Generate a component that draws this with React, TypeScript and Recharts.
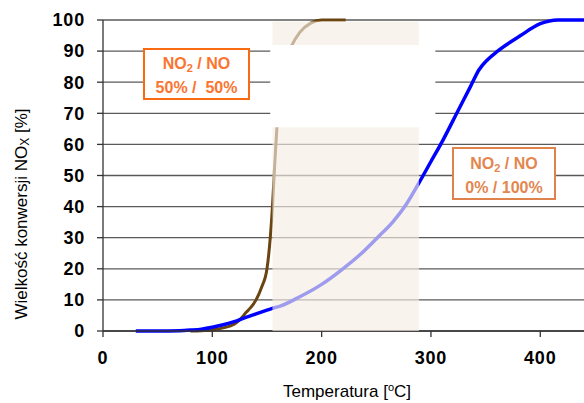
import React from "react";
import { LineChart, Line, XAxis, YAxis, CartesianGrid, ReferenceArea } from "recharts";

// 0% NO2 / 100% NO
const blueTemps = [30, 50, 70, 80, 90, 100, 110, 120, 130, 140, 150, 156, 162, 180, 200, 218, 235, 251, 265, 277, 289, 300, 311, 325, 336, 344, 352, 361, 382, 400, 416, 440];
const blueConv = [0, 0, 0.1, 0.3, 0.6, 1.2, 2.0, 3.0, 4.3, 5.5, 6.7, 7.4, 8.0, 11, 15, 19.6, 24.5, 30, 35, 40.5, 47.6, 54.5, 61.4, 71, 78.5, 84, 87.3, 90, 95, 98.8, 100, 100];

// 50% NO2 / 50% NO
const brownTemps = [80, 90, 100, 110, 120, 125, 131, 135, 140, 145, 150, 153, 155, 157, 159, 163, 168, 173, 180, 190, 200, 222];
const brownConv = [0, 0.1, 0.4, 1.0, 2.2, 3.6, 6.0, 7.5, 10, 14, 20, 30, 40, 53, 65, 78, 87, 92, 96, 99, 100, 100];

const xTicks = [0, 100, 200, 300, 400];
const yTicks = [0, 10, 20, 30, 40, 50, 60, 70, 80, 90, 100];

const blueData = blueTemps.map((x, i) => ({ x, y: blueConv[i] }));
const brownData = brownTemps.map((x, i) => ({ x, y: brownConv[i] }));

const FONT = "'Liberation Sans', Arial, sans-serif";
const tickStyle = { fill: "#000", fontSize: 18, fontWeight: 700, fontFamily: FONT, letterSpacing: 0.8 };

export default function App() {
  return (
    <div style={{ position: "absolute", left: 0, top: 0, width: 584, height: 403, background: "#fff", fontFamily: FONT }}>
      <LineChart width={584} height={403} margin={{ top: 20, right: 0, bottom: 0, left: 0 }}>
        <CartesianGrid horizontal vertical={false} stroke="#5a5a5a" strokeWidth={1.3} />
        <XAxis
          type="number"
          dataKey="x"
          domain={[0, 440]}
          ticks={xTicks}
          allowDataOverflow
          height={72}
          tickSize={6}
          tickMargin={14}
          tick={tickStyle}
          axisLine={{ stroke: "#333", strokeWidth: 1.3 }}
          tickLine={{ stroke: "#333", strokeWidth: 1.3 }}
        />
        <YAxis
          type="number"
          domain={[0, 100]}
          ticks={yTicks}
          width={103}
          tickSize={6}
          tickMargin={12}
          tick={tickStyle}
          axisLine={{ stroke: "#333", strokeWidth: 1.3 }}
          tickLine={{ stroke: "#333", strokeWidth: 1.3 }}
        />
        <Line data={brownData} dataKey="y" type="monotone" stroke="#6b4510" strokeWidth={3} dot={false} isAnimationActive={false} />
        <Line data={blueData} dataKey="y" type="monotone" stroke="#0000ff" strokeWidth={3.5} dot={false} isAnimationActive={false} />
        <ReferenceArea x1={155} x2={289} y1={0} y2={99.5} fill="#f4eee4" fillOpacity={0.65} stroke="none" zIndex={500} />
        <ReferenceArea x1={153} x2={304} y1={65.5} y2={92} fill="#ffffff" fillOpacity={1} stroke="none" zIndex={600} />
      </LineChart>

      <div style={{ position: "absolute", left: 143, top: 48, width: 107, height: 52, boxSizing: "border-box", border: "2px solid #fa6a12", background: "#fff", color: "#fb7430", fontWeight: 700, fontSize: 16, lineHeight: "20px", textAlign: "center", paddingTop: 4 }}>
        <div>NO<sub style={{ fontSize: 11, verticalAlign: "-3px" }}>2</sub> / NO</div>
        <div style={{ whiteSpace: "pre" }}>50% /  50%</div>
      </div>

      <div style={{ position: "absolute", left: 452, top: 147, width: 104, height: 53, boxSizing: "border-box", border: "2px solid #e0824c", background: "#fff", color: "#e3864f", fontWeight: 700, fontSize: 16, lineHeight: "19px", textAlign: "center", paddingTop: 5 }}>
        <div>NO<sub style={{ fontSize: 11, verticalAlign: "-3px" }}>2</sub> / NO</div>
        <div>0% / 100%</div>
      </div>

      <div style={{ position: "absolute", left: 22, top: 214, width: 0, height: 0 }}>
        <div style={{ position: "absolute", transform: "translate(-50%, -50%) rotate(-90deg)", whiteSpace: "nowrap", fontSize: 17, color: "#000" }}>
          Wielkość konwersji NO<sub style={{ fontSize: 12, verticalAlign: "-2px" }}>X</sub> [%]
        </div>
      </div>

      <div style={{ position: "absolute", left: 347, top: 391, width: 0, height: 0 }}>
        <div style={{ position: "absolute", transform: "translate(-50%, -50%)", whiteSpace: "nowrap", fontSize: 17, color: "#000" }}>
          Temperatura [<sup style={{ fontSize: 11, verticalAlign: "6px" }}>o</sup>C]
        </div>
      </div>
    </div>
  );
}
